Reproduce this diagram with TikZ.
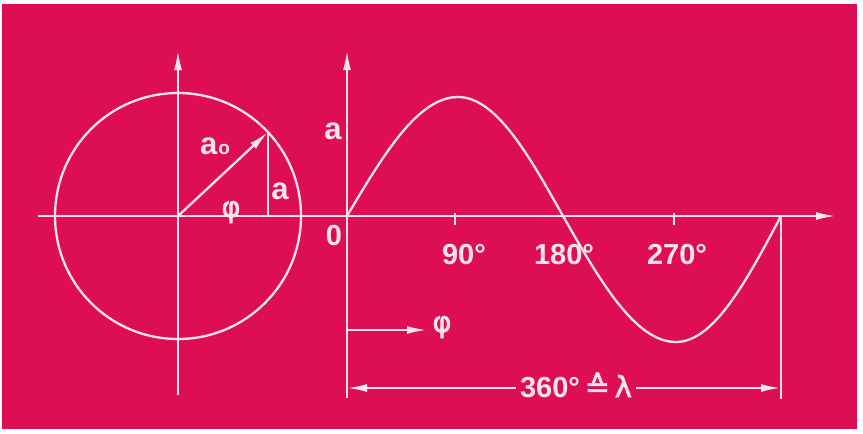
\documentclass[tikz,border=0pt]{standalone}
\usepackage{fontspec}
\setmainfont{Liberation Sans}
\newfontfamily\lblfont{Liberation Sans Bold}
\newfontfamily\symfont[FakeBold=2]{DejaVu Sans}
\usetikzlibrary{arrows.meta,calc}
\definecolor{bgmag}{RGB}{221,14,84}
\definecolor{ink}{RGB}{250,228,236}
\tikzset{
  lbl/.style={text=ink, inner sep=0pt, font=\lblfont\fontsize{29}{34}\selectfont},
  lbla/.style={lbl, font=\lblfont\fontsize{31}{36}\selectfont},
  lblphi/.style={lbl, font=\symfont\fontsize{29}{34}\selectfont},
  ln/.style={draw=ink, line width=2.3pt},
  tip/.style={-{Latex[length=20pt,width=8pt]}},
  tiptwo/.style={{Latex[length=20pt,width=8pt]}-{Latex[length=20pt,width=8pt]}},
}
\begin{document}
\begin{tikzpicture}[x=1pt,y=-1pt]
\useasboundingbox (0,0) rectangle (863,434);
\fill[white] (0,0) rectangle (863,434);
\fill[bgmag] (2,4) rectangle (857,429);
% key points
\coordinate (C) at (178,216);
\coordinate (O) at (347,216);
\coordinate (P) at ($(C)+(-43:123)$);
\coordinate (Pf) at (P |- C);
\coordinate (hl) at (38,216);
\coordinate (hr) at (836,216);
\coordinate (v1b) at (178,395);
\coordinate (v1t) at (178,50);
\coordinate (v2b) at (347,398);
\coordinate (v2t) at (347,50);
\coordinate (pk) at (458,97);
\coordinate (z1) at (563,216);
\coordinate (tr) at (676,342);
\coordinate (E) at (781,216);
\coordinate (Eb) at (781,399);
\coordinate (t1a) at (455,213);
\coordinate (t1b) at (455,225);
\coordinate (t2a) at (674,213);
\coordinate (t2b) at (674,225);
\coordinate (fa) at (348,330);
\coordinate (fb) at (427,330);
\coordinate (dl) at (347,388);
\coordinate (dr) at (781,388);
% circle and axes
\draw[ln] (C) circle[radius=123];
\draw[ln,tip] (hl) -- (hr);
\draw[ln,tip] (v1b) -- (v1t);
\draw[ln,tip] (v2b) -- (v2t);
\draw[ln,tip] (C) -- (P);
\draw[ln] (P) -- (Pf);
% sine
\draw[ln] (O) sin (pk) cos (z1) sin (tr) cos (E);
\draw[ln] (E) -- (Eb);
\draw[ln] (t1a) -- (t1b);
\draw[ln] (t2a) -- (t2b);
% phi arrow
\draw[ln,tip] (fa) -- (fb);
% dimension line
\draw[ln,tiptwo] (dl) -- (dr);
\node[lbl, fill=bgmag, inner xsep=4pt, inner ysep=2pt] (dim) at (576,385) {360°\,{\symfont\fontsize{30}{34}\selectfont ≙}\,{\symfont λ}};
% labels
\node[lbla] (la0) at (215,146) {a\kern1pt{\fontsize{19}{19}\selectfont o}};
\node[lbla] (la1) at (280,191) {a};
\node[lblphi] (lphi1) at (231,212) {φ};
\node[lbla] (la2) at (333,131) {a};
\node[lbl] (l0) at (334,236) {0};
\node[lbl] (l90) at (464,255) {90°};
\node[lbl] (l180) at (564,255) {180°};
\node[lbl] (l270) at (677,255) {270°};
\node[lblphi] (lphi2) at (442,327) {φ};
\end{tikzpicture}
\end{document}
